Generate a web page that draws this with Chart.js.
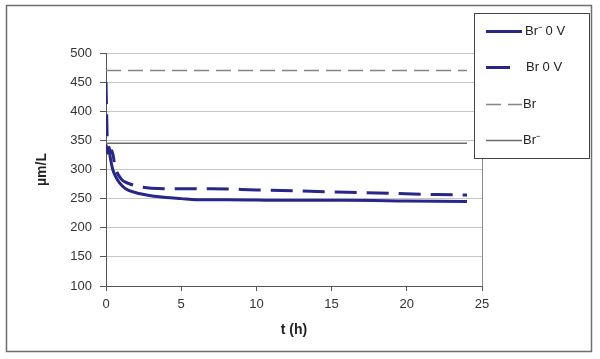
<!DOCTYPE html>
<html>
<head>
<meta charset="utf-8">
<script src="https://cdn.jsdelivr.net/npm/chart.js@4.4.1/dist/chart.umd.min.js"></script>
<style>
  html, body { margin: 0; padding: 0; background: #fff; }
  #wrap { width: 600px; height: 359px; }
</style>
</head>
<body>
<div id="wrap"><canvas id="chart" width="600" height="359"></canvas></div>
<script>
// time (h) and concentrations (µm/L)
const tBrMinus0V = [0, 0.1, 0.2, 0.3, 0.45, 0.6, 0.9, 1.3, 2, 3, 4, 5, 6, 8, 12, 16, 20, 24];
const brMinus0V  = [343, 328, 335, 318, 300, 290, 277, 267, 260, 255, 252, 250, 248, 248, 247, 247, 246, 245];

const tBr0V = [0, 0.1, 0.2, 0.3, 0.4, 0.6, 1, 1.5, 2, 3, 5, 7, 10, 13, 16, 19, 22, 24];
const br0V  = [450, 345, 338, 328, 332, 305, 284, 276, 272, 268, 267, 267, 265, 263, 261, 259, 257, 256];

// reference levels (flat lines)
const tLevels = [0, 24];
const brLevel = [470, 470];
const brMinusLevel = [345, 345];

const seriesLabels = ['Br\u207B 0 V', 'Br 0 V', 'Br', 'Br\u207B'];
const xTicks = [0, 5, 10, 15, 20, 25];
const yMin = 100, yMax = 500, yStep = 50;

function pts(ts, vs) {
    return ts.map((t, i) => ({ x: t, y: vs[i] }));
}

const navy = '#27278a';
const baseFont = '"Liberation Sans", Arial, sans-serif';

// white background + outer frame
const framePlugin = {
    id: 'frame',
    beforeDraw(chart) {
        const c = chart.ctx;
        c.save();
        c.fillStyle = '#fff';
        c.fillRect(0, 0, chart.width, chart.height);
        c.strokeStyle = '#6e6e6e';
        c.lineWidth = 1.5;
        c.strokeRect(6.5, 5.5, 585, 346);
        c.restore();
    }
};

// legend box drawn on top, overlapping the plot like the original
const boxLegend = {
    id: 'boxLegend',
    afterDraw(chart) {
        const c = chart.ctx;
        c.save();
        c.fillStyle = '#fff';
        c.fillRect(474, 13, 115, 145);
        c.strokeStyle = '#444';
        c.lineWidth = 1;
        c.strokeRect(474.5, 13.5, 115, 145);
        const rows = [31, 67, 104, 140];
        const textX = [525, 526, 523, 523];
        const lineEnd = [522, 510, 522, 522];
        chart.data.datasets.forEach((ds, i) => {
            const y = rows[i];
            c.beginPath();
            c.setLineDash(i === 1 ? [] : (ds.borderDash || []));
            c.strokeStyle = ds.borderColor;
            c.lineWidth = ds.borderWidth;
            c.moveTo(486, y + 0.5);
            c.lineTo(lineEnd[i], y + 0.5);
            c.stroke();
            c.setLineDash([]);
            c.fillStyle = '#222';
            c.font = '13px ' + baseFont;
            c.textBaseline = 'middle';
            c.textAlign = 'left';
            c.fillText(ds.label, textX[i], y);
        });
        c.restore();
    }
};

const ctx = document.getElementById('chart').getContext('2d');
const chart = new Chart(ctx, {
    type: 'line',
    data: {
        datasets: [{
            label: seriesLabels[0],
            data: pts(tBrMinus0V, brMinus0V),
            borderColor: navy,
            borderWidth: 3,
            pointRadius: 0,
            cubicInterpolationMode: 'monotone'
        }, {
            label: seriesLabels[1],
            data: pts(tBr0V, br0V),
            borderColor: navy,
            borderWidth: 3,
            borderDash: [22, 10],
            pointRadius: 0,
            cubicInterpolationMode: 'monotone'
        }, {
            label: seriesLabels[2],
            data: pts(tLevels, brLevel),
            borderColor: '#858585',
            borderWidth: 1.5,
            borderDash: [15, 7],
            pointRadius: 0
        }, {
            label: seriesLabels[3],
            data: pts(tLevels, brMinusLevel),
            borderColor: '#6a6a6a',
            borderWidth: 1.5,
            pointRadius: 0
        }]
    },
    options: {
        responsive: false,
        animation: false,
        layout: { padding: { top: 53, right: 118, left: 0, bottom: 0 } },
        plugins: {
            legend: { display: false },
            tooltip: { enabled: false }
        },
        scales: {
            x: {
                type: 'linear',
                min: xTicks[0],
                max: xTicks[xTicks.length - 1],
                afterBuildTicks: s => { s.ticks = xTicks.map(v => ({ value: v })); },
                afterFit: s => { s.height = 73; },
                ticks: { color: '#333', font: { size: 13, family: baseFont }, padding: 6 },
                grid: {
                    color: c => (c.tick && c.tick.value === 25) ? '#8a8a8a' : 'rgba(0,0,0,0)',
                    tickColor: '#555',
                    tickLength: 5
                },
                border: { color: '#555', width: 1 },
                title: {
                    display: true,
                    text: 't (h)',
                    color: '#222',
                    font: { size: 14, weight: 'bold', family: baseFont },
                    padding: { top: 0, bottom: 20 }
                }
            },
            y: {
                min: yMin,
                max: yMax,
                afterFit: s => { s.width = 106; },
                ticks: { stepSize: yStep, color: '#333', font: { size: 13, family: baseFont }, padding: 8 },
                grid: { color: '#c6c6c6', tickColor: '#555', tickLength: 6 },
                border: { color: '#555', width: 1 },
                title: {
                    display: true,
                    text: 'µm/L',
                    color: '#222',
                    font: { size: 14, weight: 'bold', family: baseFont },
                    padding: { top: 34, bottom: 0 }
                }
            }
        }
    },
    plugins: [framePlugin, boxLegend]
});
</script>
</body>
</html>
